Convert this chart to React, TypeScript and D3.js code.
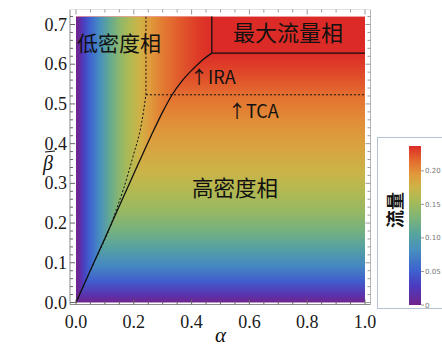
import React from "react";
import * as d3 from "d3";

// flux along the low-density side (depends on alpha)
const alphaGrid = [0, 0.014, 0.024, 0.048, 0.083, 0.118, 0.152, 0.187, 0.221, 0.256, 0.3, 0.36, 0.42, 0.47, 1.0];
const fluxLD = [0, 0.012, 0.028, 0.052, 0.083, 0.115, 0.14, 0.16, 0.177, 0.193, 0.208, 0.221, 0.231, 0.237, 0.237];

// flux on the high-density side (depends on beta)
const betaGrid = [0, 0.018, 0.052, 0.094, 0.137, 0.178, 0.228, 0.278, 0.328, 0.396, 0.454, 0.515, 0.573, 0.628, 0.72];
const fluxHD = [0, 0.018, 0.048, 0.078, 0.102, 0.124, 0.145, 0.16, 0.174, 0.188, 0.199, 0.212, 0.226, 0.237, 0.237];

// solid boundary (IRA)
const iraAlpha = [0, 0.1, 0.2, 0.26, 0.3, 0.33, 0.367, 0.405, 0.44, 0.47];
const iraBeta = [0, 0.162, 0.324, 0.42, 0.48, 0.52, 0.558, 0.588, 0.612, 0.628];

// dashed boundary (TCA)
const tcaAlpha = [0, 0.06, 0.12, 0.14, 0.163, 0.197, 0.227, 0.242];
const tcaBeta = [0, 0.097, 0.194, 0.235, 0.283, 0.367, 0.452, 0.523];

const xTicks = [0, 0.2, 0.4, 0.6, 0.8, 1.0];
const yTicks = [0, 0.1, 0.2, 0.3, 0.4, 0.5, 0.6, 0.7];
const barTicks = [0, 0.05, 0.1, 0.15, 0.2];

const cmapPos = [0, 0.12, 0.22, 0.35, 0.45, 0.55, 0.65, 0.74, 0.82, 0.9, 1];
const cmapColors = ["#72238c", "#4c3bbf", "#3d63cf", "#4890be", "#58a59c", "#7db477", "#a6bb58", "#cdb447", "#e0993b", "#e4702f", "#dc2b26"];

const fluxMax = 0.237;
const betaMax = 0.72;

const serif = "Times New Roman, Liberation Serif, DejaVu Serif, serif";
const cjk = "Noto Sans CJK SC, Noto Sans, sans-serif";

export default function App() {
  const x = d3.scaleLinear().domain([0, 1]).range([76, 365]);
  const y = d3.scaleLinear().domain([0, 0.7]).range([302.5, 24.5]);
  const color = d3
    .scaleLinear<string>()
    .domain(cmapPos.map((p) => p * fluxMax))
    .range(cmapColors)
    .interpolate(d3.interpolateRgb)
    .clamp(true);
  const yBar = d3.scaleLinear().domain([0, fluxMax]).range([305, 146]);

  const frame = { l: 70, r: 370.5, t: 9.5, b: 304.5 };

  const ira = iraAlpha.map((a, i) => [a, iraBeta[i]] as [number, number]);
  const tca = tcaAlpha.map((a, i) => [a, tcaBeta[i]] as [number, number]);
  const line = d3
    .line<[number, number]>()
    .x((d) => x(d[0]))
    .y((d) => y(d[1]))
    .curve(d3.curveMonotoneX);

  const last = ira[ira.length - 1];
  const ldClip = line(ira) + `L${x(last[0])},${y(betaMax)}L${x(0)},${y(betaMax)}Z`;

  const tcaEnd = tca[tca.length - 1];

  const xMinor = d3.range(0, 1.0001, 0.05);
  const yMinor = d3.range(0, 0.7201, 0.02);

  return (
    <svg width={442} height={350} style={{ position: "fixed", left: 0, top: 0, background: "#fff" }}>
      <defs>
        <linearGradient id="gLD" gradientUnits="userSpaceOnUse" x1={x(0)} x2={x(1)} y1={0} y2={0}>
          {alphaGrid.map((a, i) => (
            <stop key={i} offset={a} stopColor={color(fluxLD[i])} />
          ))}
        </linearGradient>
        <linearGradient id="gHD" gradientUnits="userSpaceOnUse" x1={0} x2={0} y1={y(0)} y2={y(betaMax)}>
          {betaGrid.map((b, i) => (
            <stop key={i} offset={b / betaMax} stopColor={color(fluxHD[i])} />
          ))}
        </linearGradient>
        <linearGradient id="gBar" x1={0} x2={0} y1={1} y2={0}>
          {cmapPos.map((p, i) => (
            <stop key={i} offset={p} stopColor={cmapColors[i]} />
          ))}
        </linearGradient>
        <clipPath id="cLD">
          <path d={ldClip} />
        </clipPath>
      </defs>

      {/* heat map */}
      <rect x={x(0)} y={y(betaMax)} width={x(1) - x(0)} height={y(0) - y(betaMax)} fill="url(#gHD)" />
      <rect
        x={x(0)}
        y={y(betaMax)}
        width={x(1) - x(0)}
        height={y(0) - y(betaMax)}
        fill="url(#gLD)"
        clipPath="url(#cLD)"
      />

      {/* phase boundaries */}
      <g stroke="#111" fill="none">
        <path d={line(tca) || ""} strokeWidth={1} strokeDasharray="2,2" />
        <line x1={x(tcaEnd[0])} x2={x(tcaEnd[0])} y1={y(tcaEnd[1])} y2={y(betaMax)} strokeWidth={1} strokeDasharray="2,2" />
        <line x1={x(tcaEnd[0])} x2={x(1)} y1={y(tcaEnd[1])} y2={y(tcaEnd[1])} strokeWidth={1} strokeDasharray="2,2" />
        <path d={line(ira) || ""} strokeWidth={1.3} />
        <line x1={x(last[0])} x2={x(last[0])} y1={y(last[1])} y2={y(betaMax)} strokeWidth={1.3} />
        <line x1={x(last[0])} x2={x(1)} y1={y(last[1])} y2={y(last[1])} strokeWidth={1.3} />
      </g>

      {/* labels inside */}
      <g style={{ fontFamily: cjk }} fill="#111">
        <text x={77} y={51} fontSize={21}>低密度相</text>
        <text x={233} y={41} fontSize={22}>最大流量相</text>
        <text x={192} y={196} fontSize={21.5}>高密度相</text>
        <text x={190} y={84} fontSize={18}>↑IRA</text>
        <text x={228} y={118} fontSize={18}>↑TCA</text>
      </g>

      {/* frame */}
      <g stroke="#8a8a8a" fill="none">
        <line x1={frame.l} x2={frame.l} y1={frame.t} y2={frame.b} />
        <line x1={frame.l} x2={frame.r} y1={frame.b} y2={frame.b} />
        <line x1={frame.r} x2={frame.r} y1={frame.t} y2={frame.b} stroke="#b5b5b5" />
        <line x1={frame.l} x2={frame.r} y1={frame.t} y2={frame.t} stroke="#e2e2e2" />
      </g>
      <g stroke="#666" strokeWidth={1}>
        {xMinor.map((v, i) => {
          const len = i % 4 === 0 ? 5 : 3;
          return (
            <g key={i}>
              <line x1={x(v)} x2={x(v)} y1={frame.b} y2={frame.b - len} />
              <line x1={x(v)} x2={x(v)} y1={frame.t} y2={frame.t + len} stroke="#999" />
            </g>
          );
        })}
        {yMinor.map((v, i) => {
          const len = i % 5 === 0 ? 5 : 3;
          return (
            <g key={i}>
              <line x1={frame.l} x2={frame.l + len} y1={y(v)} y2={y(v)} />
              <line x1={frame.r} x2={frame.r - len} y1={y(v)} y2={y(v)} stroke="#999" />
            </g>
          );
        })}
      </g>
      <g style={{ fontFamily: serif }} fontSize={18} fill="#1a1a1a">
        {xTicks.map((v) => (
          <text key={v} x={x(v)} y={328} textAnchor="middle">
            {v.toFixed(1)}
          </text>
        ))}
        {yTicks.map((v) => (
          <text key={v} x={67} y={y(v) + 6} textAnchor="end">
            {v.toFixed(1)}
          </text>
        ))}
      </g>
      <text x={(x(0) + x(1)) / 2} y={342} textAnchor="middle" style={{ fontFamily: serif }} fontStyle="italic" fontSize={21} fill="#111">
        α
      </text>
      <text x={48} y={170} textAnchor="middle" style={{ fontFamily: serif }} fontStyle="italic" fontSize={20} fill="#111">
        β
      </text>
      <line x1={45} x2={55} y1={152} y2={151} stroke="#111" strokeWidth={1.2} />

      {/* legend */}
      <rect x={377.5} y={137.5} width={80} height={171} fill="#fff" stroke="#b4c3d6" />
      <rect x={409} y={yBar(fluxMax)} width={12} height={yBar(0) - yBar(fluxMax)} fill="url(#gBar)" />
      <g>
        {barTicks.map((v) => (
          <g key={v}>
            <line x1={421} x2={424} y1={yBar(v)} y2={yBar(v)} stroke="#999" />
            <text x={425} y={yBar(v) + 2.5} fontSize={7} style={{ fontFamily: "DejaVu Sans, sans-serif" }} fill="#777">
              {v === 0 ? "0" : v.toFixed(2)}
            </text>
          </g>
        ))}
      </g>
      <text
        transform="translate(402,210) rotate(-90)"
        textAnchor="middle"
        style={{ fontFamily: cjk }}
        fontWeight="bold"
        fontSize={18}
        fill="#111"
      >
        流量
      </text>
    </svg>
  );
}
